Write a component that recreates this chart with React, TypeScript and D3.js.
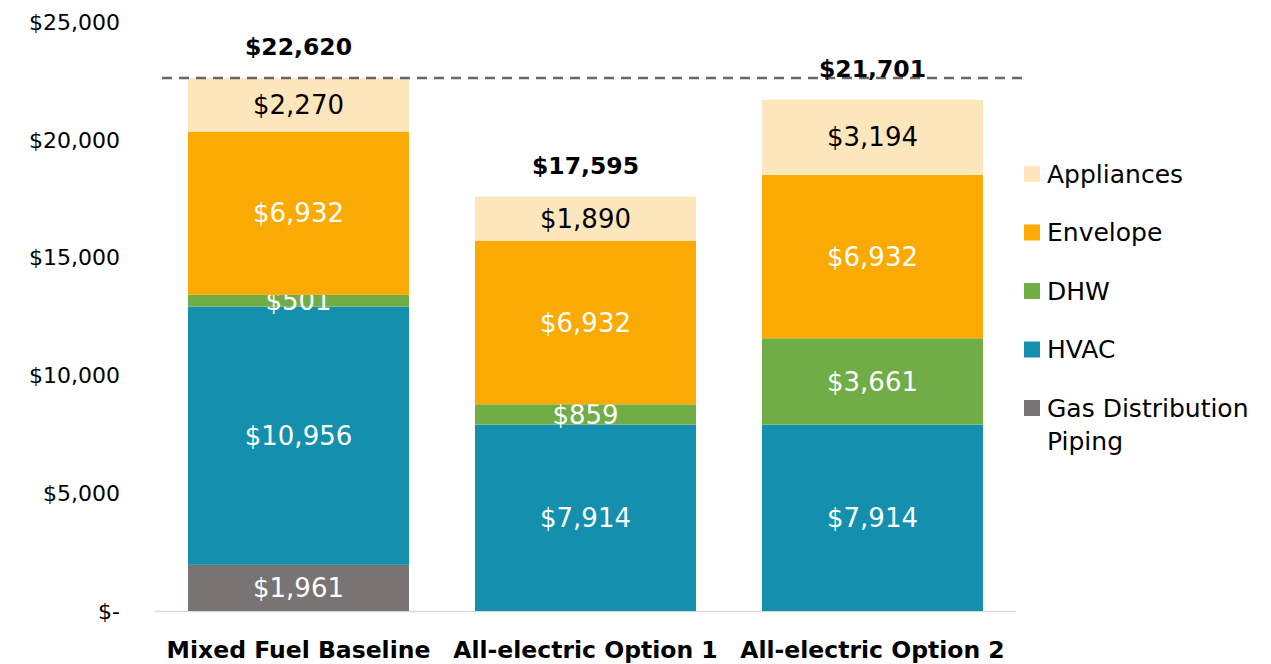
import React from 'react';
import * as d3 from 'd3';

const categories = ['Mixed Fuel Baseline', 'All-electric Option 1', 'All-electric Option 2'];
const seriesNames = ['Gas Distribution Piping', 'HVAC', 'DHW', 'Envelope', 'Appliances'];
const gasPiping = [1961, 0, 0];
const hvac = [10956, 7914, 7914];
const dhw = [501, 859, 3661];
const envelope = [6932, 6932, 6932];
const appliances = [2270, 1890, 3194];
const totals = [22620, 17595, 21701];
const yTicks = [0, 5000, 10000, 15000, 20000, 25000];
const colors = ['#787473', '#1490ae', '#70ad47', '#fbaa04', '#fee6bc'];
const labelColors = ['#fff', '#fff', '#fff', '#fff', '#000'];

const W = 1271;
const H = 664;
const font = "'Century Gothic', 'DejaVu Sans', sans-serif";

export default function App() {
  const values = [gasPiping, hvac, dhw, envelope, appliances];
  const rows = categories.map((c, i) => {
    const r: any = { cat: c };
    seriesNames.forEach((s, k) => (r[s] = values[k][i]));
    return r;
  });
  const stacked = d3.stack().keys(seriesNames)(rows);

  const x = d3.scaleBand().domain(categories).range([155, 1016]).paddingInner(0.23).paddingOuter(0.115);
  const y = d3.scaleLinear().domain([0, 25000]).range([611, 22]);
  const fmt = (v: number) => (v === 0 ? '$-' : '$' + d3.format(',')(v));

  // legend top to bottom: Appliances first
  const legendOrder = [4, 3, 2, 1, 0];

  return (
    <svg width={W} height={H} style={{ position: 'absolute', left: 0, top: 0, fontFamily: font }}>
      <rect width={W} height={H} fill="#fff" />
      {yTicks.map((t) => (
        <text key={t} x={120} y={y(t)} dy="0.35em" textAnchor="end" fontSize={22} fill="#000">
          {fmt(t)}
        </text>
      ))}
      <line x1={155} x2={1016} y1={611.5} y2={611.5} stroke="#d9d9d9" strokeWidth={1.5} />
      {stacked.map((layer, k) =>
        layer.map((d, i) => {
          const h = y(d[0]) - y(d[1]);
          if (h <= 0) return null;
          return (
            <g key={`${k}-${i}`}>
              <rect x={x(categories[i])} y={y(d[1])} width={x.bandwidth()} height={h} fill={colors[k]} />
              <text
                x={(x(categories[i]) as number) + x.bandwidth() / 2}
                y={y((d[0] + d[1]) / 2)}
                dy="0.35em"
                textAnchor="middle"
                fontSize={26}
                fill={labelColors[k]}
              >
                {fmt(d[1] - d[0])}
              </text>
            </g>
          );
        })
      )}
      <line
        x1={162}
        x2={1024}
        y1={y(totals[0])}
        y2={y(totals[0])}
        stroke="#666"
        strokeWidth={2.5}
        strokeDasharray="10 7"
      />
      {totals.map((t, i) => (
        <text
          key={i}
          x={(x(categories[i]) as number) + x.bandwidth() / 2}
          y={y(t) - 31}
          dy="0.35em"
          textAnchor="middle"
          fontSize={23.5}
          fontWeight="bold"
          fill="#000"
        >
          {fmt(t)}
        </text>
      ))}
      {categories.map((c) => (
        <text
          key={c}
          x={(x(c) as number) + x.bandwidth() / 2}
          y={650}
          dy="0.35em"
          textAnchor="middle"
          fontSize={23.5}
          fontWeight="bold"
          fill="#000"
        >
          {c}
        </text>
      ))}
      {legendOrder.map((k, j) => {
        const cy = 174 + j * 58.5;
        const name = seriesNames[k];
        const lines = name === 'Gas Distribution Piping' ? ['Gas Distribution', 'Piping'] : [name];
        return (
          <g key={name}>
            <rect x={1024} y={cy - 8} width={16} height={16} fill={colors[k]} />
            {lines.map((ln, li) => (
              <text key={ln} x={1047} y={cy + li * 33} dy="0.35em" fontSize={25} fill="#000">
                {ln}
              </text>
            ))}
          </g>
        );
      })}
    </svg>
  );
}
